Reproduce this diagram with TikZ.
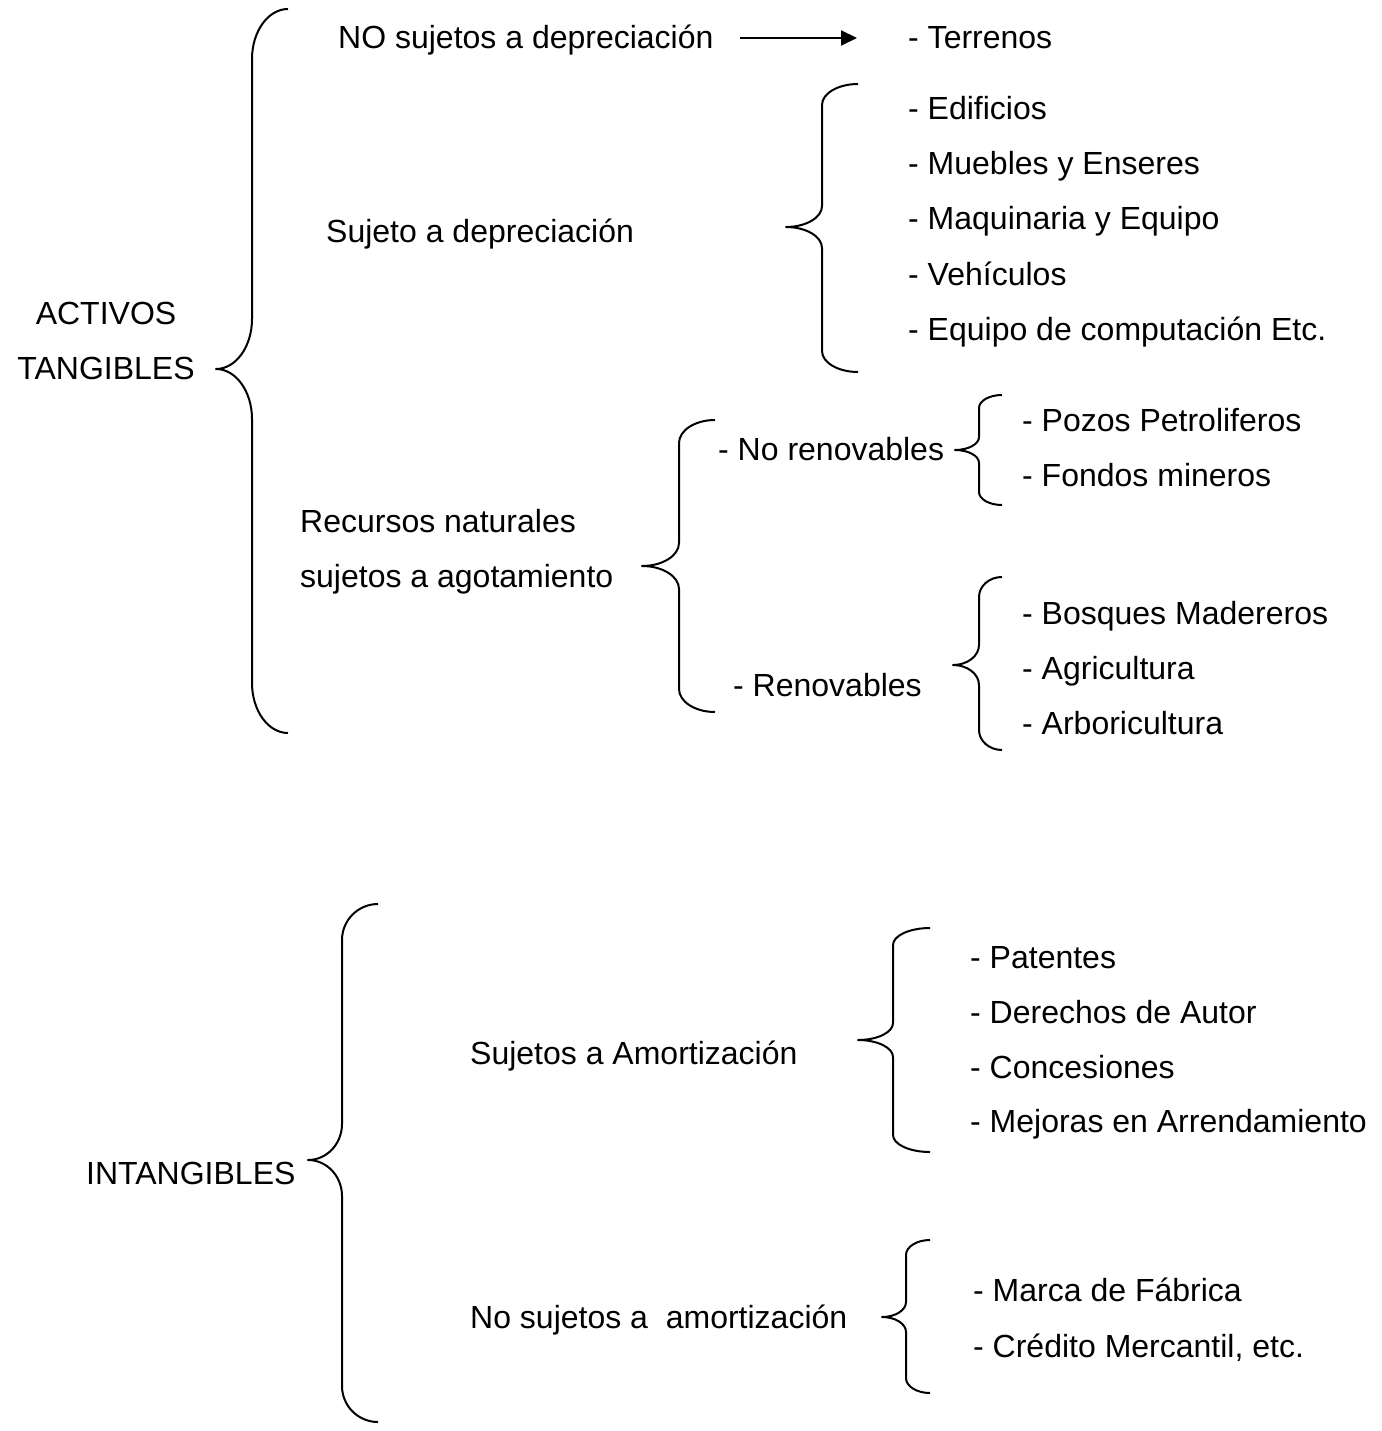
\documentclass[tikz,border=0pt]{standalone}
\usepackage{fontspec}
\setmainfont{Liberation Sans}
\usetikzlibrary{arrows.meta}
\tikzset{
  lbl/.style={anchor=base west, inner sep=0pt, font=\fontsize{32}{55}\selectfont},
  bracestyle/.style={line width=2pt, line join=round},
  arr/.style={line width=2pt, -{Triangle[length=16pt,width=15pt]}}
}
% #1 xtip, #2 xline, #3 xend, #4 ytop, #5 ytip, #6 ybot, #7 r
\newcommand\mybrace[7]{%
\draw[bracestyle] (#3,#4) .. controls ({#3-0.552*(#3-#2)},#4) and (#2,{#4+#7-0.552*#7}) .. (#2,{#4+#7})
  -- (#2,{#5-#7}) .. controls (#2,{#5-#7+0.552*#7}) and ({#1+0.552*(#2-#1)},#5) .. (#1,#5)
  .. controls ({#1+0.552*(#2-#1)},#5) and (#2,{#5+#7-0.552*#7}) .. (#2,{#5+#7})
  -- (#2,{#6-#7}) .. controls (#2,{#6-#7+0.552*#7}) and ({#3-0.552*(#3-#2)},#6) .. (#3,#6);}
\begin{document}
\begin{tikzpicture}[x=1pt,y=-1pt]
\useasboundingbox (0,0) rectangle (1381,1431);
% TANGIBLES
\node[lbl, align=center, anchor=center] (tang) at (106,341) {ACTIVOS\\TANGIBLES};
\mybrace{216}{252}{288}{9}{369}{733}{50}
\node[lbl] (nosuj) at (338,49) {NO sujetos a depreciación};
\node[lbl] (terr) at (908,49) {- Terrenos};
\draw[arr, shorten <=26pt, shorten >=51pt] (nosuj.east |- 0,38) -- (terr.west |- 0,38);
\node[lbl] (suj) at (326,243) {Sujeto a depreciación};
\mybrace{786}{822}{858}{84}{227}{372}{21}
\node[lbl] (e1) at (908,120) {- Edificios};
\node[lbl] (e2) at (908,175) {- Muebles y Enseres};
\node[lbl] (e3) at (908,230) {- Maquinaria y Equipo};
\node[lbl] (e4) at (908,285) {- Vehículos};
\node[lbl] (e5) at (908,340) {- Equipo de computación Etc.};
\node[lbl, align=left] (rec) at (300,587) {Recursos naturales\\sujetos a agotamiento};
\mybrace{642}{679}{715}{420}{566}{712}{23}
\node[lbl] (nren) at (718,460) {- No renovables};
\node[lbl] (ren) at (733,696) {- Renovables};
\mybrace{955}{979}{1002}{395}{450}{505}{13}
\node[lbl] (p1) at (1022,431) {- Pozos Petroliferos};
\node[lbl] (p2) at (1022,486) {- Fondos mineros};
\mybrace{953}{979}{1002}{577}{665}{750}{20}
\node[lbl] (b1) at (1022,624) {- Bosques Madereros};
\node[lbl] (b2) at (1022,679) {- Agricultura};
\node[lbl] (b3) at (1022,734) {- Arboricultura};
% INTANGIBLES
\node[lbl] (intang) at (86,1184) {INTANGIBLES};
\mybrace{308}{342}{378}{904}{1160}{1422}{36}
\node[lbl] (amort) at (470,1064) {Sujetos a Amortización};
\mybrace{858}{893}{930}{928}{1040}{1152}{17}
\node[lbl] (a1) at (970,968) {- Patentes};
\node[lbl] (a2) at (970,1023) {- Derechos de Autor};
\node[lbl] (a3) at (970,1078) {- Concesiones};
\node[lbl] (a4) at (970,1132) {- Mejoras en Arrendamiento};
\node[lbl] (namort) at (470,1328) {No sujetos a\ \ amortización};
\mybrace{882}{906}{930}{1240}{1317}{1393}{15}
\node[lbl] (m1) at (973,1301) {- Marca de Fábrica};
\node[lbl] (m2) at (973,1357) {- Crédito Mercantil, etc.};
\end{tikzpicture}
\end{document}
